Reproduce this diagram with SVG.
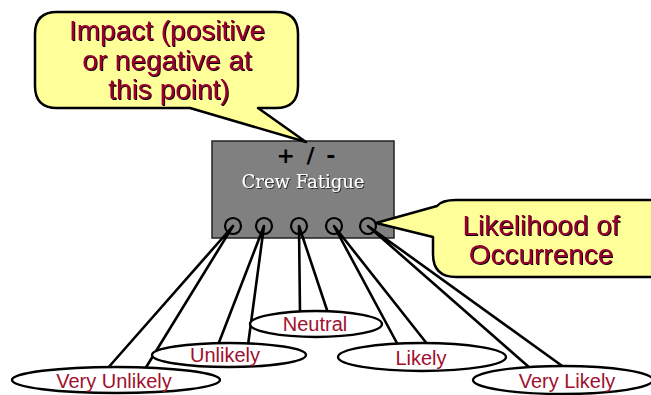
<svg xmlns="http://www.w3.org/2000/svg" width="651" height="395" viewBox="0 0 651 395">
<defs>
<filter id="sh" x="-5%" y="-5%" width="110%" height="120%">
<feOffset dx="1" dy="1" in="SourceAlpha" result="o"/>
<feFlood flood-color="#000"/>
<feComposite in2="o" operator="in" result="s"/>
<feMerge><feMergeNode in="s"/><feMergeNode in="SourceGraphic"/></feMerge>
</filter>
<filter id="sh2" x="-5%" y="-5%" width="110%" height="120%">
<feOffset dx="1" dy="1" in="SourceAlpha" result="o"/>
<feFlood flood-color="#333"/>
<feComposite in2="o" operator="in" result="s"/>
<feMerge><feMergeNode in="s"/><feMergeNode in="SourceGraphic"/></feMerge>
</filter>
</defs>
<style>
.callout{fill:#ffff99;stroke:#000;stroke-width:2.5;stroke-linejoin:round}
.ctext{font-family:"Liberation Sans",Arial,sans-serif;font-size:28px;fill:#990033;text-anchor:middle;filter:url(#sh)}
.box{fill:#808080;stroke:#222;stroke-width:1.5}
.port{fill:none;stroke:#000;stroke-width:2.2}
.wire{fill:none;stroke:#000;stroke-width:2.6;stroke-linejoin:round}
.oval{fill:#fff;stroke:#000;stroke-width:2.4}
.otext{font-family:"Liberation Sans",Arial,sans-serif;font-size:20px;fill:#a0102e;text-anchor:middle}
</style>
<rect width="651" height="395" fill="#fff"/>
<g id="node-crew-fatigue">
<rect class="box" x="212" y="141" width="182" height="97"/>
<text x="307" y="163" text-anchor="middle" font-family="DejaVu Sans,sans-serif" font-weight="bold" font-size="22" letter-spacing="2" fill="#000">+ / -</text>
<text x="303" y="188" text-anchor="middle" font-family="DejaVu Serif,serif" font-size="18" fill="#fff" filter="url(#sh2)">Crew Fatigue</text>
<circle class="port" cx="233" cy="226" r="8"/>
<circle class="port" cx="264" cy="226" r="8"/>
<circle class="port" cx="299" cy="226" r="8"/>
<circle class="port" cx="334" cy="226" r="8"/>
<circle class="port" cx="368" cy="226" r="8"/>
</g>
<g id="callout-impact">
<path class="callout" d="M57,12 H276 Q298,12 298,34 V86 Q298,108 276,108 H258 L306,142 L190,108 H57 Q35,108 35,86 V34 Q35,12 57,12 Z"/>
<text class="ctext" x="167" y="40">Impact (positive</text>
<text class="ctext" x="167" y="70">or negative at</text>
<text class="ctext" x="169" y="99">this point)</text>
</g>
<g id="callout-likelihood">
<path class="callout" d="M456,200 H665 V277 H456 Q433,277 433,254 V237 L376,223 L437,206 Q442,200 456,200 Z"/>
<text class="ctext" x="541" y="235">Likelihood of</text>
<text class="ctext" x="541" y="264">Occurrence</text>
</g>
<g id="connectors">
<polyline class="wire" points="107,369 233,226 145,369"/>
<polyline class="wire" points="218,345 264,226 248,345"/>
<polyline class="wire" points="300,313 299,226 328,313"/>
<polyline class="wire" points="398,345 334,226 428,345"/>
<polyline class="wire" points="530,368 368,226 565,368"/>
</g>
<g id="node-neutral">
<ellipse class="oval" cx="316" cy="324" rx="66" ry="13"/>
<text class="otext" x="315" y="331">Neutral</text>
</g>
<g id="node-unlikely">
<ellipse class="oval" cx="229" cy="355" rx="77" ry="12"/>
<text class="otext" x="225" y="362">Unlikely</text>
</g>
<g id="node-very-unlikely">
<ellipse class="oval" cx="116" cy="380" rx="104" ry="13"/>
<text class="otext" x="114" y="388">Very Unlikely</text>
</g>
<g id="node-likely">
<ellipse class="oval" cx="422" cy="357" rx="84" ry="14"/>
<text class="otext" x="421" y="365">Likely</text>
</g>
<g id="node-very-likely">
<ellipse class="oval" cx="563" cy="380" rx="90" ry="14"/>
<text class="otext" x="567" y="388">Very Likely</text>
</g>
</svg>
